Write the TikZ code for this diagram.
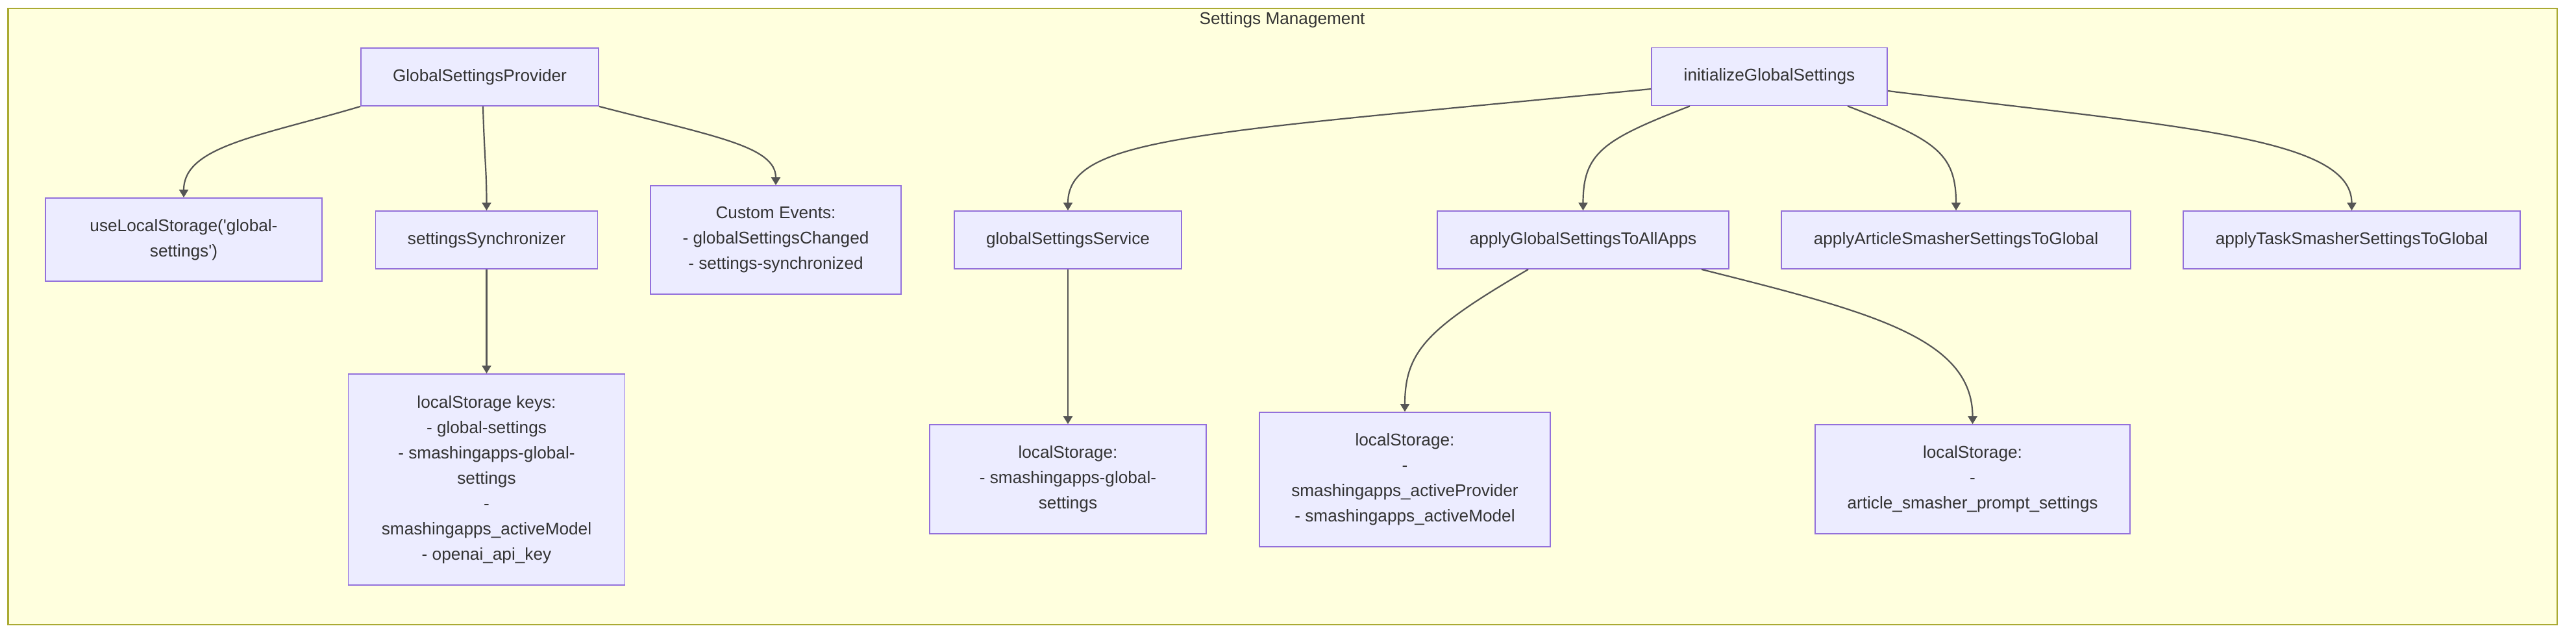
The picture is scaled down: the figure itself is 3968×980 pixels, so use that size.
\documentclass[tikz,border=0pt]{standalone}
\usepackage{fontspec}
\setmainfont{Liberation Sans}
\usetikzlibrary{arrows.meta}
\definecolor{clfill}{HTML}{FFFFDE}
\definecolor{clline}{HTML}{AAAA33}
\definecolor{ndfill}{HTML}{ECECFF}
\definecolor{ndline}{HTML}{9370DB}
\definecolor{txt}{HTML}{333333}
\definecolor{edgec}{HTML}{555555}
\begin{document}
\begin{tikzpicture}[x=1pt,y=-1pt,
  box/.style={draw=ndline, fill=ndfill, line width=1.8pt, inner sep=0pt,
    align=center, text=txt, font=\fontsize{26.2}{39}\selectfont, anchor=center},
  link/.style={draw=edgec, line width=2.2pt, -{Triangle[length=12pt,width=14pt]}},
  clusterbox/.style={draw=clline, fill=clfill, line width=2.4pt},
  ttl/.style={text=txt, font=\fontsize{26.2}{39}\selectfont, inner sep=0pt}
]
\useasboundingbox (0,0) rectangle (3968,980);
\draw[clusterbox] (12.5,13) rectangle (3939,962);
\node[ttl] (title) at (1975,31) {Settings Management};

% left group
\node[box, minimum width=366pt, minimum height=89pt] (gsp) at (739,118.5) {GlobalSettingsProvider};
\node[box, minimum width=426pt, minimum height=128pt] (uls) at (283,369) {useLocalStorage(\textquotesingle global-\\settings\textquotesingle)};
\node[box, minimum width=342pt, minimum height=89pt] (sync) at (749.5,369.5) {settingsSynchronizer};
\node[box, minimum width=386pt, minimum height=167pt] (ce) at (1195,369.5) {Custom Events:\\- globalSettingsChanged\\- settings-synchronized};
\node[box, minimum width=426pt, minimum height=325pt] (keys) at (749.5,738.5) {localStorage keys:\\- global-settings\\- smashingapps-global-\\settings\\-\\smashingapps\_activeModel\\- openai\_api\_key};

% right group
\node[box, minimum width=363pt, minimum height=89pt] (init) at (2725.5,118) {initializeGlobalSettings};
\node[box, minimum width=350pt, minimum height=89pt] (gss) at (1645,369.5) {globalSettingsService};
\node[box, minimum width=449pt, minimum height=89pt] (apply) at (2438.5,369.5) {applyGlobalSettingsToAllApps};
\node[box, minimum width=538pt, minimum height=89pt] (article) at (3013,369.5) {applyArticleSmasherSettingsToGlobal};
\node[box, minimum width=519pt, minimum height=89pt] (task) at (3622.5,369.5) {applyTaskSmasherSettingsToGlobal};
\node[box, minimum width=426pt, minimum height=168pt] (ls1) at (1645,738) {localStorage:\\- smashingapps-global-\\settings};
\node[box, minimum width=448pt, minimum height=207pt] (ls2) at (2164,738.5) {localStorage:\\-\\smashingapps\_activeProvider\\- smashingapps\_activeModel};
\node[box, minimum width=485pt, minimum height=168pt] (ls3) at (3038.5,738) {localStorage:\\-\\article\_smasher\_prompt\_settings};

% connectors
\draw[link] (gsp.south west) .. controls (400,210) and (283,225) .. (uls.north);
\draw[link] ([xshift=5pt]gsp.south) .. controls (746,240) and (749.5,260) .. (sync.north);
\draw[link] (gsp.south east) .. controls (1100,210) and (1195,225) .. (ce.north);
\draw[link] (sync.south) -- (keys.north);

\draw[link] ([yshift=-19pt]init.west) .. controls (1850,205) and (1645,210) .. (gss.north);
\draw[link] ([xshift=-122.5pt]init.south) .. controls (2470,215) and (2438.5,235) .. (apply.north);
\draw[link] ([xshift=120.5pt]init.south) .. controls (2980,215) and (3013,235) .. (article.north);
\draw[link] ([yshift=-22pt]init.east) .. controls (3350,195) and (3622.5,210) .. (task.north);
\draw[link] (gss.south) -- (ls1.north);
\draw[link] ([xshift=-84.5pt]apply.south) .. controls (2200,505) and (2164,540) .. (ls2.north);
\draw[link] ([xshift=182.5pt]apply.south) .. controls (2880,480) and (3038.5,520) .. (ls3.north);
\end{tikzpicture}
\end{document}
